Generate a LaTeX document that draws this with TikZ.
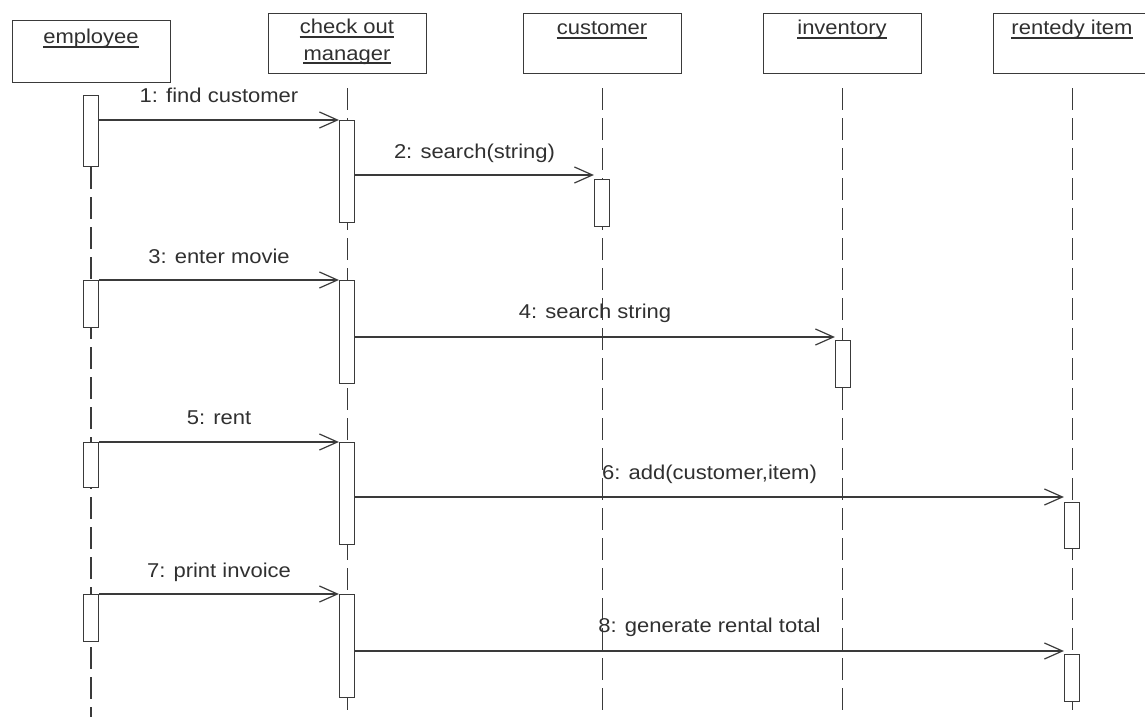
\documentclass[tikz,border=0pt]{standalone}
\usepackage{fontspec}
\setmainfont{Liberation Sans}
\usepackage{graphicx}
\usetikzlibrary{arrows.meta,calc}
\newcommand{\hs}[1]{\scalebox{1.1}[1]{#1}}
\definecolor{ln}{HTML}{3A3A3A}
\definecolor{tx}{HTML}{303030}
\begin{document}
\begin{tikzpicture}[x=1pt,y=-1pt,
  head/.style={draw=ln, line width=1.2pt, fill=white, minimum width=158pt, minimum height=60pt, inner sep=0pt, anchor=north west},
  lbl/.style={font=\fontsize{20pt}{24pt}\selectfont, text=tx, inner sep=0pt, anchor=base},
  ul/.style={draw=tx, line width=1.1pt},
  life/.style={draw=ln, line width=1.2pt, dash pattern=on 22pt off 8pt},
  act/.style={draw=ln, line width=1.2pt, fill=white, minimum width=15pt, inner sep=0pt, anchor=north},
  msg/.style={draw=ln, line width=1.2pt, -{Straight Barb[length=18pt,width=16pt]}}]
\useasboundingbox (0,0) rectangle (1145,717);
\clip (0,0) rectangle (1145,717);
\coordinate (bot) at (0,717);

% heads
\node[head, minimum height=62pt] (emp) at (12,20) {};
\node[head] (mgr) at (268,13) {};
\node[head] (cust) at (523,13) {};
\node[head] (inv) at (763,13) {};
\node[head] (rent) at (993,13) {};

\node[lbl] (tEmp) at (91,44) {\hs{employee}};
\node[lbl] (tMgrA) at (347,34) {\hs{check out}};
\node[lbl] (tMgrB) at (347,60) {\hs{manager}};
\node[lbl] (tCust) at (602,35) {\hs{customer}};
\node[lbl] (tInv) at (842,35) {\hs{inventory}};
\node[lbl] (tRent) at (1072,35) {\hs{rentedy item}};
\foreach \t in {tEmp,tMgrA,tMgrB,tCust,tInv,tRent}
  \draw[ul] ($(\t.base west)+(0,3)$) -- ($(\t.base east)+(0,3)$);

% activations
\node[act, minimum height=71pt] (e1) at (91,95) {};
\node[act, minimum height=47pt] (e2) at (91,280) {};
\node[act, minimum height=45pt] (e3) at (91,442) {};
\node[act, minimum height=47pt] (e4) at (91,594) {};

% lifelines
\draw[life] (e1.south) -- (e1.south |- bot);
\draw[life] ($(mgr.south)+(0,14)$) -- (mgr.south |- bot);
\draw[life] ($(cust.south)+(0,14)$) -- (cust.south |- bot);
\draw[life] ($(inv.south)+(0,14)$) -- (inv.south |- bot);
\draw[life] ($(rent.south)+(0,14)$) -- (rent.south |- bot);

% redraw employee activations on top of lifeline
\node[act, minimum height=71pt] at (e1.north) {};
\node[act, minimum height=47pt] at (e2.north) {};
\node[act, minimum height=45pt] at (e3.north) {};
\node[act, minimum height=47pt] at (e4.north) {};

\node[act, minimum height=102pt] (m1) at (347,120) {};
\node[act, minimum height=103pt] (m2) at (347,280) {};
\node[act, minimum height=102pt] (m3) at (347,442) {};
\node[act, minimum height=103pt] (m4) at (347,594) {};
\node[act, minimum height=47pt] (c1) at (602,179) {};
\node[act, minimum height=47pt] (i1) at (843,340) {};
\node[act, minimum height=46pt] (r1) at (1072,502) {};
\node[act, minimum height=47pt] (r2) at (1072,654) {};

% message targets
\coordinate (t2) at ($(c1.north west)+(0,-4)$);
\coordinate (t4) at ($(i1.north west)+(0,-3)$);
\coordinate (t6) at ($(r1.north west)+(0,-5)$);
\coordinate (t8) at ($(r2.north west)+(0,-3)$);

% messages
\draw[msg] (e1.east |- m1.north west) -- (m1.north west)
  node[lbl, midway, yshift=18pt] {\hs{1: find customer}};
\draw[msg] (m1.east |- t2) -- (t2)
  node[lbl, midway, yshift=17pt] {\hs{2: search(string)}};
\draw[msg] (e2.north east) -- (m2.north west)
  node[lbl, midway, yshift=17pt] {\hs{3: enter movie}};
\draw[msg] (m2.east |- t4) -- (t4)
  node[lbl, midway, yshift=19pt] {\hs{4: search string}};
\draw[msg] (e3.north east) -- (m3.north west)
  node[lbl, midway, yshift=18pt] {\hs{5: rent}};
\draw[msg] (m3.east |- t6) -- (t6)
  node[lbl, midway, yshift=18pt] {\hs{6: add(customer,item)}};
\draw[msg] (e4.north east) -- (m4.north west)
  node[lbl, midway, yshift=17pt] {\hs{7: print invoice}};
\draw[msg] (m4.east |- t8) -- (t8)
  node[lbl, midway, yshift=19pt] {\hs{8: generate rental total}};
\end{tikzpicture}
\end{document}
